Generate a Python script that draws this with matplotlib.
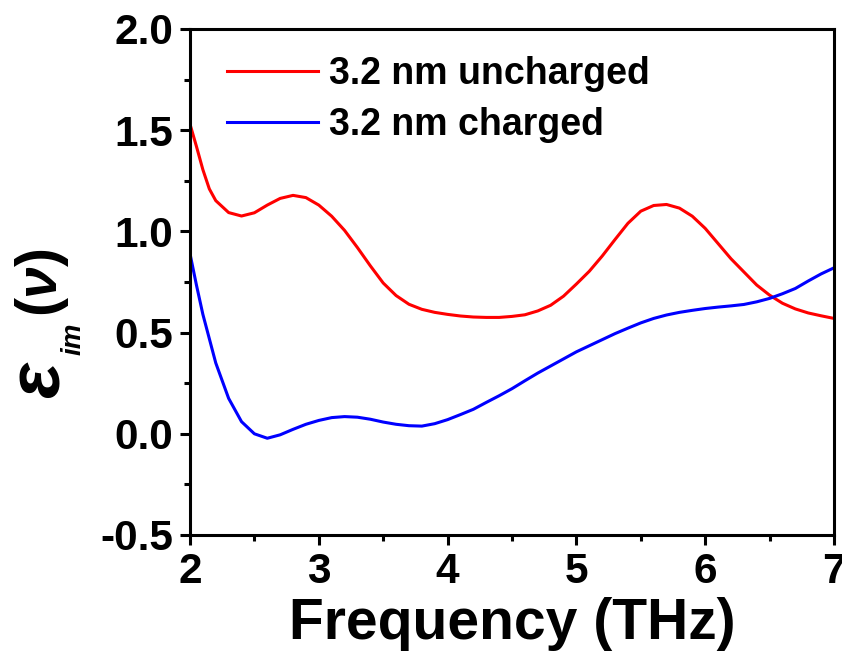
import matplotlib
matplotlib.use('Agg')
import matplotlib.pyplot as plt
import numpy as np
from matplotlib.ticker import MultipleLocator, FormatStrFormatter

plt.rcParams['font.family'] = ['Liberation Sans', 'DejaVu Sans']
plt.rcParams['font.weight'] = 'bold'
plt.rcParams['mathtext.fontset'] = 'custom'
plt.rcParams['mathtext.rm'] = 'Liberation Sans:bold'
plt.rcParams['mathtext.it'] = 'Liberation Sans:italic:bold'
plt.rcParams['mathtext.bf'] = 'Liberation Sans:bold'

# frequency grid (THz)
freq = [2.0, 2.05, 2.1, 2.15, 2.2, 2.3, 2.4, 2.5, 2.6, 2.7, 2.8, 2.9,
        3.0, 3.1, 3.2, 3.3, 3.4, 3.5, 3.6, 3.7, 3.8, 3.9,
        4.0, 4.1, 4.2, 4.3, 4.4, 4.5, 4.6, 4.7, 4.8, 4.9,
        5.0, 5.1, 5.2, 5.3, 5.4, 5.5, 5.6, 5.7, 5.8, 5.9,
        6.0, 6.1, 6.2, 6.3, 6.4, 6.5, 6.6, 6.7, 6.8, 6.9, 7.0]

# imaginary permittivity, 3.2 nm uncharged
eps_uncharged = [1.53, 1.42, 1.305, 1.21, 1.152, 1.093, 1.076, 1.092, 1.13, 1.163, 1.178, 1.167,
                 1.13, 1.075, 1.005, 0.92, 0.83, 0.745, 0.683, 0.64, 0.615, 0.6,
                 0.59, 0.582, 0.577, 0.575, 0.575, 0.58, 0.588, 0.607, 0.635, 0.68,
                 0.74, 0.803, 0.878, 0.96, 1.04, 1.1, 1.128, 1.133, 1.115, 1.075,
                 1.015, 0.94, 0.865, 0.8, 0.735, 0.685, 0.645, 0.617, 0.597, 0.583, 0.57]

# imaginary permittivity, 3.2 nm charged
eps_charged = [0.89, 0.735, 0.59, 0.47, 0.35, 0.175, 0.06, 0.0, -0.022, -0.005, 0.022, 0.047,
               0.066, 0.08, 0.085, 0.082, 0.072, 0.058, 0.047, 0.04, 0.038, 0.05,
               0.07, 0.095, 0.121, 0.155, 0.188, 0.223, 0.262, 0.3, 0.335, 0.37,
               0.405, 0.435, 0.465, 0.495, 0.522, 0.548, 0.57, 0.587, 0.6, 0.61,
               0.619, 0.626, 0.632, 0.639, 0.652, 0.669, 0.692, 0.718, 0.755, 0.79, 0.82]

W, H = 842, 652
fig = plt.figure(figsize=(W / 100, H / 100), dpi=100)
ax = fig.add_axes([190 / W, 1 - 535 / H, (834 - 190) / W, (535 - 29) / H])

ax.plot(freq, eps_uncharged, color='#ff0000', lw=2.2, label='3.2 nm uncharged')
ax.plot(freq, eps_charged, color='#0000ff', lw=2.2, label='3.2 nm charged')

ax.set_xlim(2, 7)
ax.set_ylim(-0.5, 2.0)
ax.xaxis.set_major_locator(MultipleLocator(1))
ax.xaxis.set_minor_locator(MultipleLocator(0.5))
ax.yaxis.set_major_locator(MultipleLocator(0.5))
ax.yaxis.set_minor_locator(MultipleLocator(0.25))
ax.yaxis.set_major_formatter(FormatStrFormatter('%.1f'))

for s in ax.spines.values():
    s.set_linewidth(2.2)
ax.tick_params(which='both', direction='out', width=2.2, top=False, right=False)
ax.tick_params(which='major', length=7, pad=5, labelsize=30.5)
ax.tick_params(which='minor', length=4)

ax.set_xlabel('Frequency (THz)', fontsize=41, fontweight='bold', labelpad=4)

# y label built from pieces so the epsilon can be drawn large
def ylab(x, y, s, size, style='normal'):
    fig.text(x / W, 1 - y / H, s, fontsize=size, fontweight='bold', fontstyle=style,
             rotation=90, rotation_mode='anchor', ha='left', va='baseline')

ylab(60, 398, '\u03b5', 54, 'italic')
ylab(81, 355, 'im', 20, 'italic')
ylab(57, 317, r'($\nu$)', 41)

leg = ax.legend(loc='upper left', bbox_to_anchor=(227 / W, 1 - 56 / H),
                bbox_transform=fig.transFigure, frameon=False, fontsize=27,
                handlelength=2.43, handletextpad=0.3, labelspacing=0.41,
                borderpad=0, borderaxespad=0)
for t in leg.get_texts():
    t.set_fontweight('bold')

fig.savefig('out.png', dpi=100)
